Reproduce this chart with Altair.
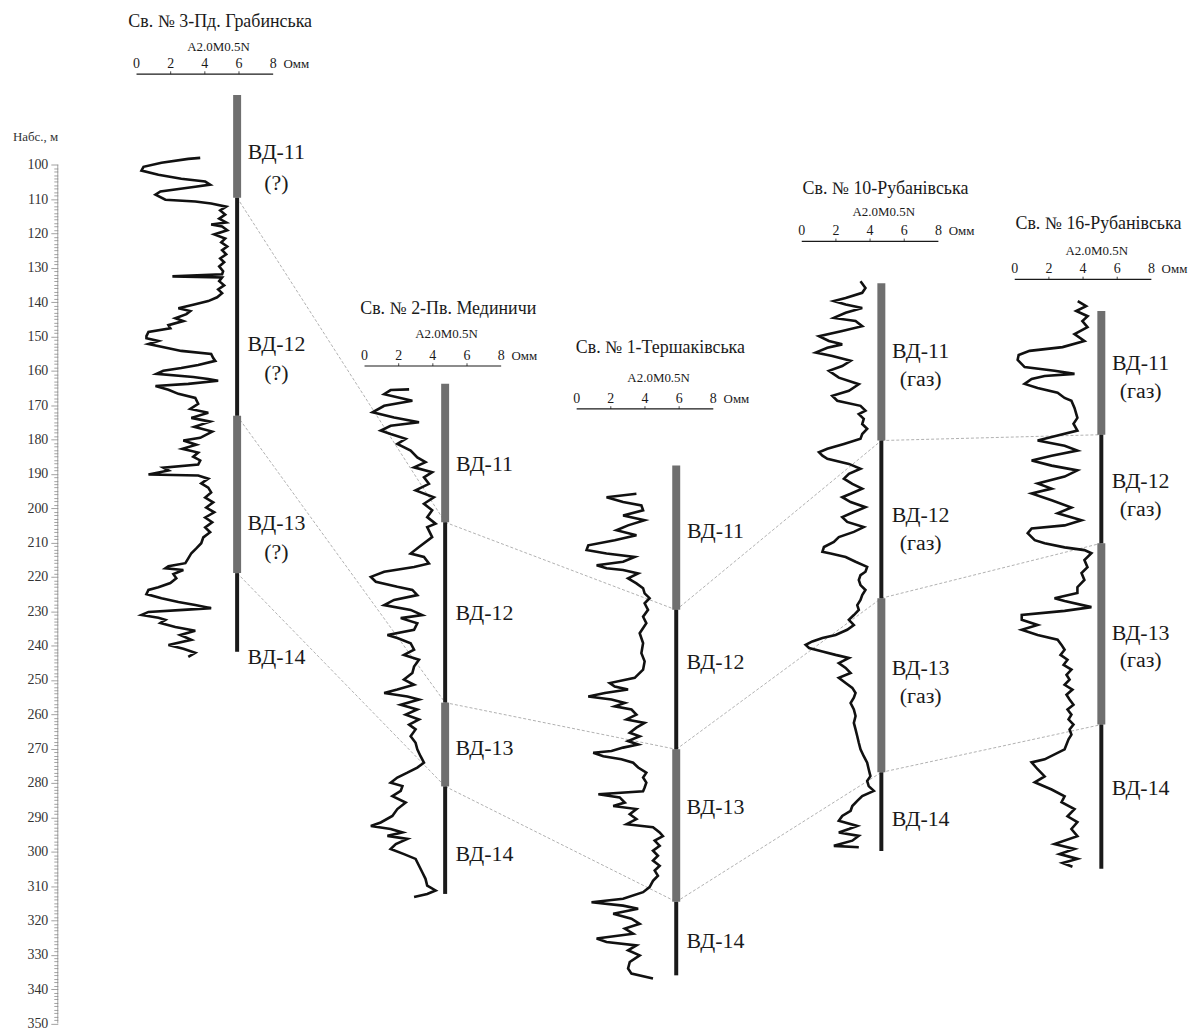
import altair as alt
import pandas as pd

# ---------------- data ----------------
WELL_NAMES = ["Св. № 3-Пд. Грабинська", "Св. № 2-Пв. Мединичи", "Св. № 1-Тершаківська",
              "Св. № 10-Рубанівська", "Св. № 16-Рубанівська"]

# lithological column boundaries, m (top, ВД-11/12, ВД-12/13, ВД-13/14, bottom)
COL_TOP = [79.7, 163.8, 187.6, 134.5, 142.6]
B_11_12 = [109.6, 204.1, 229.6, 180.3, 178.6]
B_12_13 = [173.1, 256.6, 270.2, 226.2, 210.2]
B_13_14 = [218.9, 281.0, 314.6, 276.9, 263.0]
COL_BOTTOM = [241.8, 312.3, 336.0, 299.8, 305.0]

UNIT_NAMES = ["ВД-11", "ВД-12", "ВД-13", "ВД-14"]
QUALIFIER = ["(?)", "", "", "(газ)", "(газ)"]

SCALE_TICKS = [0, 2, 4, 6, 8]
SCALE_UNIT = "Омм"
SCALE_NAME = "A2.0M0.5N"
DEPTH_TITLE = "Набс., м"

# resistivity logs: (depth m, apparent resistivity Ohm*m)
W3_LOG = [(98.0, 3.73), (98.3, 3.03), (99.4, 1.46), (100.6, 0.41), (101.7, 0.29), (102.9, 1.28),
          (104.1, 2.62), (104.9, 4.02), (105.8, 4.31), (106.4, 3.44), (107.8, 1.40), (108.7, 1.11),
          (110.2, 1.69), (110.7, 3.44), (111.3, 4.37), (112.2, 5.25), (113.3, 4.90), (114.5, 5.19),
          (115.7, 4.84), (116.8, 5.25), (117.4, 4.37), (118.0, 5.01), (119.1, 5.31), (120.3, 4.55),
          (121.5, 5.19), (122.6, 4.96), (123.8, 5.31), (124.9, 5.01), (126.1, 5.25), (127.3, 4.90),
          (128.4, 5.13), (129.6, 4.84), (131.0, 5.07), (131.9, 5.01), (132.5, 2.10), (132.8, 5.01),
          (133.9, 4.84), (135.1, 5.13), (136.3, 4.78), (137.4, 5.01), (138.6, 4.72), (139.7, 4.20),
          (140.6, 3.44), (141.8, 2.45), (142.6, 3.15), (143.5, 2.92), (144.7, 2.27), (145.5, 2.74),
          (146.7, 1.87), (147.6, 1.98), (148.7, 0.70), (149.9, 0.58), (150.5, 0.58), (151.3, 1.28),
          (152.2, 0.70), (153.4, 1.87), (154.2, 2.62), (155.1, 4.37), (156.3, 4.49), (157.1, 4.61),
          (158.3, 3.61), (159.2, 2.62), (160.0, 1.57), (160.9, 1.17), (161.8, 3.32), (162.4, 4.20),
          (162.9, 4.78), (163.8, 3.03), (164.4, 1.11), (165.5, 1.87), (166.7, 2.45), (167.9, 3.44),
          (169.6, 3.61), (171.1, 3.15), (172.2, 4.20), (173.7, 3.21), (174.8, 4.31), (176.3, 3.38),
          (177.7, 4.43), (179.5, 3.73), (180.3, 2.74), (181.5, 3.50), (182.7, 2.68), (183.8, 3.61),
          (185.0, 3.32), (186.1, 3.73), (187.3, 3.61), (188.2, 1.57), (189.0, 1.87), (190.2, 0.70),
          (190.5, 3.61), (191.4, 4.20), (192.8, 3.79), (194.0, 4.20), (195.4, 4.37), (196.9, 4.02),
          (198.3, 4.49), (199.8, 4.08), (201.2, 4.55), (202.7, 4.02), (204.1, 4.43), (205.6, 4.02),
          (207.0, 4.31), (208.5, 3.91), (210.2, 3.79), (211.7, 3.50), (213.1, 3.21), (214.6, 3.03),
          (216.0, 2.86), (216.9, 1.87), (217.5, 1.69), (218.0, 2.74), (219.2, 2.16), (220.4, 2.33),
          (221.8, 1.98), (223.0, 1.28), (223.8, 0.70), (225.0, 0.58), (226.2, 1.46), (227.3, 2.45),
          (228.2, 3.44), (229.1, 4.37), (229.6, 2.74), (230.2, 0.70), (231.1, 0.29), (231.9, 1.28),
          (232.5, 1.69), (233.4, 1.40), (234.6, 2.27), (235.7, 3.44), (236.9, 2.56), (238.3, 3.21),
          (239.8, 1.87), (240.9, 2.74), (242.1, 3.44), (243.3, 3.03)]

W2_LOG = [(165.4, 2.61), (165.6, 1.53), (166.8, 1.15), (168.7, 2.80), (170.2, 1.15), (172.1, 0.47),
          (173.6, 1.73), (175.0, 3.19), (176.0, 1.53), (177.4, 0.95), (178.4, 1.53), (179.8, 2.41),
          (181.3, 1.92), (183.2, 2.70), (185.2, 3.09), (186.6, 3.57), (188.1, 2.90), (189.5, 3.96),
          (191.0, 3.48), (192.9, 3.77), (194.8, 2.99), (196.8, 4.06), (198.7, 3.48), (200.6, 3.96),
          (202.6, 3.67), (204.5, 4.16), (205.5, 3.67), (208.4, 3.96), (211.3, 3.19), (213.2, 2.70),
          (214.2, 3.48), (216.1, 3.77), (217.1, 2.90), (218.5, 1.15), (220.0, 0.37), (221.4, 0.66),
          (222.9, 1.92), (223.8, 2.80), (225.3, 3.09), (226.7, 1.73), (228.2, 1.15), (229.6, 2.70),
          (231.1, 3.38), (232.0, 2.12), (233.5, 3.09), (235.4, 2.90), (236.9, 1.34), (237.8, 1.92),
          (239.3, 2.70), (241.2, 2.90), (242.7, 2.31), (244.1, 3.19), (246.1, 2.90), (248.0, 2.80),
          (249.9, 2.31), (251.4, 2.90), (252.8, 1.92), (253.8, 1.15), (254.8, 2.51), (255.7, 3.19),
          (257.2, 2.12), (258.6, 3.09), (260.1, 2.41), (261.5, 3.19), (263.0, 2.61), (264.4, 2.99),
          (266.4, 2.70), (268.3, 2.99), (270.2, 3.09), (272.2, 3.28), (274.1, 3.48), (275.5, 3.09),
          (277.0, 2.51), (278.4, 1.92), (279.9, 1.53), (280.9, 2.22), (282.3, 2.12), (283.8, 1.63),
          (285.7, 2.41), (287.6, 1.92), (289.6, 1.63), (291.5, 0.95), (292.5, 0.37), (293.4, 1.53),
          (294.4, 2.22), (295.4, 1.34), (296.3, 2.51), (297.8, 1.83), (299.2, 1.53), (300.7, 2.31),
          (302.1, 2.99), (304.1, 3.19), (306.0, 3.38), (307.9, 3.57), (309.9, 3.67), (311.3, 4.16),
          (312.3, 3.67), (313.2, 2.90)]

W1_LOG = [(195.8, 3.50), (196.8, 1.75), (198.2, 2.72), (199.2, 3.79), (200.6, 3.89), (202.1, 2.72),
          (203.5, 3.98), (205.0, 3.01), (206.4, 2.33), (207.9, 3.50), (209.3, 2.23), (210.8, 0.68),
          (212.2, 0.58), (213.2, 1.75), (214.2, 3.40), (215.6, 2.72), (216.6, 1.17), (217.5, 1.75),
          (218.0, 2.72), (219.0, 3.60), (220.4, 3.01), (221.9, 3.50), (223.3, 3.89), (224.8, 3.98),
          (226.2, 4.27), (227.7, 3.98), (229.6, 4.18), (231.6, 3.89), (233.5, 4.08), (236.4, 3.69),
          (239.3, 3.89), (242.2, 3.79), (244.6, 3.98), (247.0, 3.89), (249.4, 3.40), (250.9, 1.94),
          (251.9, 2.23), (252.8, 3.01), (253.8, 1.65), (254.8, 0.68), (255.7, 2.04), (256.7, 2.82),
          (257.7, 2.23), (258.6, 3.21), (260.1, 3.50), (261.5, 2.92), (262.5, 3.98), (263.9, 3.50),
          (265.4, 3.11), (266.4, 3.69), (267.8, 3.01), (268.8, 3.60), (269.7, 2.72), (270.7, 2.04),
          (271.2, 0.97), (272.2, 1.56), (273.1, 2.62), (274.1, 3.31), (275.5, 3.60), (277.0, 4.08),
          (278.4, 3.89), (279.9, 4.08), (281.3, 3.98), (282.4, 3.89), (283.3, 1.27), (284.2, 2.52),
          (285.7, 2.82), (286.7, 2.14), (287.6, 3.50), (289.1, 3.11), (290.5, 3.50), (292.0, 2.92),
          (292.9, 4.47), (294.4, 4.86), (295.5, 5.05), (296.8, 4.57), (298.3, 4.86), (299.7, 4.47),
          (301.2, 4.76), (302.6, 4.47), (304.1, 4.86), (305.5, 4.57), (307.0, 4.76), (308.5, 4.47),
          (310.3, 4.27), (311.8, 3.89), (313.7, 2.72), (314.7, 0.87), (315.7, 2.72), (316.6, 3.60),
          (318.1, 2.14), (319.5, 3.21), (321.0, 3.69), (322.4, 2.82), (323.9, 3.31), (325.3, 1.17),
          (326.3, 1.75), (327.3, 3.50), (328.7, 3.01), (330.2, 3.69), (332.1, 3.11), (334.0, 3.01),
          (335.5, 3.21), (336.9, 4.47)]

W10_LOG = [(133.9, 3.44), (135.9, 3.73), (137.3, 3.54), (138.8, 2.57), (139.7, 1.88), (140.7, 2.57),
           (141.7, 3.54), (143.1, 2.57), (144.6, 1.88), (145.5, 3.15), (147.0, 3.54), (148.4, 2.37),
           (149.9, 1.01), (151.3, 1.59), (152.3, 2.37), (153.3, 1.50), (154.7, 0.82), (155.7, 1.79),
           (157.1, 2.86), (158.6, 2.37), (160.0, 1.59), (162.0, 2.17), (163.9, 3.34), (165.8, 2.76),
           (167.3, 1.79), (168.7, 2.08), (170.2, 3.44), (171.6, 3.73), (172.6, 3.34), (174.0, 3.63),
           (175.5, 3.54), (176.9, 3.83), (178.4, 3.54), (179.8, 3.44), (181.3, 2.47), (182.7, 1.50),
           (183.7, 1.01), (184.7, 1.21), (185.6, 1.50), (187.1, 2.76), (188.5, 3.44), (190.0, 2.76),
           (191.4, 2.47), (192.9, 2.96), (194.3, 3.54), (195.8, 2.86), (196.8, 2.37), (198.2, 2.86),
           (199.7, 3.73), (201.1, 3.05), (202.6, 2.37), (204.0, 2.66), (205.5, 3.63), (206.9, 3.05),
           (208.4, 2.17), (209.8, 1.88), (211.3, 1.30), (212.7, 1.21), (213.2, 1.69), (214.2, 2.57),
           (215.6, 3.15), (217.1, 3.83), (218.5, 3.73), (219.5, 3.44), (220.9, 3.34), (222.4, 3.44),
           (223.8, 3.73), (225.3, 3.54), (226.7, 3.44), (228.2, 3.25), (229.6, 3.34), (231.1, 3.05),
           (232.5, 2.76), (234.0, 3.05), (235.4, 2.66), (236.9, 1.98), (237.8, 1.21), (238.8, 0.62),
           (239.8, 0.23), (240.7, 0.43), (241.7, 1.21), (242.7, 1.98), (243.6, 2.76), (245.1, 2.17),
           (246.5, 2.57), (248.0, 2.86), (249.4, 2.17), (250.9, 2.57), (252.3, 2.96), (253.8, 3.15),
           (255.2, 3.05), (256.7, 2.86), (258.6, 3.05), (260.5, 3.15), (262.5, 3.05), (264.4, 3.15),
           (266.4, 3.25), (268.3, 3.34), (270.2, 3.44), (272.2, 3.63), (274.1, 3.83), (276.0, 3.92),
           (278.0, 4.02), (279.4, 3.83), (280.9, 3.92), (282.3, 4.22), (283.8, 3.54), (285.2, 3.25),
           (286.7, 2.96), (288.1, 2.86), (289.6, 2.37), (291.0, 2.17), (292.5, 3.25), (293.4, 2.76),
           (294.4, 2.17), (295.4, 3.34), (296.8, 2.96), (298.3, 1.88), (298.7, 3.34)]

W16_LOG = [(139.7, 3.69), (141.2, 4.18), (142.6, 3.60), (144.1, 4.27), (145.5, 3.96), (147.3, 4.26),
           (149.3, 3.50), (151.3, 4.08), (153.1, 2.80), (154.2, 0.87), (155.4, 0.23), (156.8, 0.17),
           (158.9, 0.58), (160.0, 2.33), (160.9, 3.50), (161.5, 1.75), (162.4, 0.99), (163.8, 0.58),
           (165.0, 1.34), (166.4, 2.51), (167.9, 2.92), (168.7, 3.32), (170.8, 3.50), (173.7, 3.67),
           (175.4, 3.44), (177.4, 3.67), (178.9, 2.45), (180.3, 1.34), (181.8, 2.92), (183.2, 3.67),
           (184.7, 2.16), (186.1, 0.99), (187.6, 2.16), (189.0, 3.67), (190.8, 2.92), (192.8, 1.34),
           (194.3, 2.16), (195.7, 0.99), (197.7, 2.16), (199.8, 3.32), (201.5, 2.51), (203.5, 3.91),
           (205.0, 2.92), (205.9, 0.99), (207.3, 0.76), (209.3, 1.17), (210.2, 1.75), (211.4, 2.92),
           (212.2, 4.08), (213.1, 4.49), (215.1, 4.08), (217.2, 4.26), (218.9, 3.91), (220.9, 4.08),
           (223.0, 3.67), (224.7, 3.67), (226.2, 2.33), (227.0, 2.92), (228.8, 4.49), (229.9, 2.92),
           (231.1, 0.41), (232.5, 0.41), (234.0, 1.34), (235.4, 0.41), (236.9, 1.34), (238.3, 2.51),
           (239.8, 2.74), (241.2, 2.92), (242.7, 2.68), (244.1, 3.09), (245.6, 2.86), (247.0, 3.32),
           (248.5, 3.03), (249.9, 3.21), (251.4, 2.92), (252.8, 3.38), (254.3, 3.03), (255.7, 3.21),
           (257.2, 3.44), (258.6, 3.09), (260.1, 3.32), (261.5, 3.15), (263.0, 3.44), (264.4, 3.21),
           (265.9, 3.32), (267.3, 3.15), (270.2, 2.92), (273.1, 1.75), (274.0, 0.99), (276.0, 1.34),
           (278.1, 1.75), (279.8, 1.17), (281.9, 2.16), (283.9, 2.92), (285.6, 2.74), (287.6, 3.50),
           (289.7, 3.09), (291.4, 3.67), (293.4, 3.32), (295.5, 3.67), (297.8, 2.33), (299.2, 3.50),
           (300.7, 2.62), (302.1, 3.67), (303.3, 2.80), (304.4, 3.38)]

LOGS = [W3_LOG, W2_LOG, W1_LOG, W10_LOG, W16_LOG]

# ---------------- layout (not data) ----------------
X_OFFSET = [4.61, 17.96, 30.38, 43.56, 56.03]      # where each well's 0 Ohm*m sits on the shared x scale
COL_R = [5.89, 4.72, 5.83, 4.66, 5.07]              # column position inside each well's track
LABEL_DX = 2.3
UNIT_LABEL_DEPTH = [[96.2, 152.2, 204.4, 243.3], [187.0, 230.5, 269.7, 300.7],
                    [206.7, 244.7, 287.1, 325.9], [154.2, 202.1, 246.5, 290.5],
                    [157.7, 192.2, 236.3, 281.5]]
QUAL_DEPTH = [[105.2, 160.6, 212.8], [], [], [162.4, 210.2, 254.6], [165.8, 200.1, 244.1]]
TITLE_DEPTH = [58.5, 142.1, 153.4, 107.0, 117.4]
NAME_DEPTH = [65.8, 149.3, 162.1, 113.9, 125.2]
LINE_DEPTH = [73.6, 158.6, 171.1, 122.3, 133.4]

FONT = "Liberation Serif"
XS = alt.Scale(domain=[0, 66], nice=False, zero=False)
YS = alt.Scale(domain=[55, 351], reverse=True, nice=False, zero=False)

# ---------------- tables ----------------
curve_rows = []
for k, log in enumerate(LOGS):
    for i, (d, r) in enumerate(log):
        curve_rows.append({"well": WELL_NAMES[k], "i": i, "x": X_OFFSET[k] + r, "y": d})
curve_df = pd.DataFrame(curve_rows)

gray_rows, black_rows = [], []
for k in range(5):
    cx = X_OFFSET[k] + COL_R[k]
    gray_rows += [{"x": cx, "y": COL_TOP[k], "y2": B_11_12[k]}, {"x": cx, "y": B_12_13[k], "y2": B_13_14[k]}]
    black_rows += [{"x": cx, "y": B_11_12[k], "y2": B_12_13[k]}, {"x": cx, "y": B_13_14[k], "y2": COL_BOTTOM[k]}]
gray_df = pd.DataFrame(gray_rows)
black_df = pd.DataFrame(black_rows)

corr_rows = []
for k in range(4):
    for b in (B_11_12, B_12_13, B_13_14):
        corr_rows.append({"x": X_OFFSET[k] + COL_R[k], "y": b[k],
                          "x2": X_OFFSET[k + 1] + COL_R[k + 1], "y2": b[k + 1]})
corr_df = pd.DataFrame(corr_rows)

lab_rows = []
for k in range(5):
    lx = X_OFFSET[k] + COL_R[k] + LABEL_DX
    for j, name in enumerate(UNIT_NAMES):
        lab_rows.append({"x": lx, "y": UNIT_LABEL_DEPTH[k][j], "t": name})
    for j, d in enumerate(QUAL_DEPTH[k]):
        lab_rows.append({"x": lx, "y": d, "t": QUALIFIER[k]})
lab_df = pd.DataFrame(lab_rows)

title_df = pd.DataFrame({"x": [o + 4.9 for o in X_OFFSET], "y": TITLE_DEPTH, "t": WELL_NAMES})
name_df = pd.DataFrame({"x": [o + 4.8 for o in X_OFFSET], "y": NAME_DEPTH, "t": [SCALE_NAME] * 5})
line_df = pd.DataFrame({"x": [o + SCALE_TICKS[0] for o in X_OFFSET],
                        "x2": [o + SCALE_TICKS[-1] for o in X_OFFSET], "y": LINE_DEPTH})
tick_rows, minor_rows, unit_rows = [], [], []
for k in range(5):
    for t in SCALE_TICKS:
        tick_rows.append({"x": X_OFFSET[k] + t, "y": LINE_DEPTH[k] - 3.0, "t": str(t)})
        if 0 < t < SCALE_TICKS[-1]:
            minor_rows.append({"x": X_OFFSET[k] + t, "y": LINE_DEPTH[k] - 0.8, "y2": LINE_DEPTH[k]})
    unit_rows.append({"x": X_OFFSET[k] + 8.6, "y": LINE_DEPTH[k] - 3.0, "t": SCALE_UNIT})
tick_df = pd.DataFrame(tick_rows)
minor_df = pd.DataFrame(minor_rows)
unit_df = pd.DataFrame(unit_rows)

axis_df = pd.DataFrame({"y": [100], "y2": [350]})
atitle_df = pd.DataFrame({"x": [-1.3], "y": [92.0], "t": [DEPTH_TITLE]})

depth_axis = alt.Axis(
    values=list(range(100, 351)),
    labelExpr="datum.value % 10 === 0 ? datum.label : ''",
    format="d",
    tickSize={"condition": {"test": "datum.value % 10 === 0", "value": 7}, "value": 4},
    tickColor="#8a8a8a", tickWidth=0.8,
    labelFont=FONT, labelFontSize=14, labelColor="#333333", labelPadding=3,
    labelOverlap=False, labelBound=False, labelFlush=False,
    domain=False, grid=False, title=None,
)


def ex(f):
    return alt.X(f, type="quantitative", scale=XS, axis=None)


def ey(f):
    # every layer carries the same depth axis so that the merged axis survives
    return alt.Y(f, type="quantitative", scale=YS, axis=depth_axis)


axis_layer = alt.Chart(axis_df).mark_rule(color="#8a8a8a", strokeWidth=0.8).encode(
    x=alt.value(0), y=ey("y"), y2="y2:Q")

corr = alt.Chart(corr_df).mark_rule(color="#9c9c9c", strokeWidth=0.8, strokeDash=[3, 2]).encode(
    x=ex("x"), y=ey("y"), x2="x2:Q", y2="y2:Q")
gray = alt.Chart(gray_df).mark_rule(color="#6f6f6f", strokeWidth=8, strokeCap="butt").encode(
    x=ex("x"), y=ey("y"), y2="y2:Q")
black = alt.Chart(black_df).mark_rule(color="#1a1a1a", strokeWidth=4, strokeCap="butt").encode(
    x=ex("x"), y=ey("y"), y2="y2:Q")
curves = alt.Chart(curve_df).mark_line(color="#111111", strokeWidth=2.6).encode(
    x=ex("x"), y=ey("y"), detail="well:N", order="i:Q")

labels = alt.Chart(lab_df).mark_text(font=FONT, fontSize=22, color="#1a1a1a", align="center",
                                     baseline="middle").encode(x=ex("x"), y=ey("y"), text="t:N")
titles = alt.Chart(title_df).mark_text(font=FONT, fontSize=18, color="#1a1a1a", align="center",
                                       baseline="middle").encode(x=ex("x"), y=ey("y"), text="t:N")
names = alt.Chart(name_df).mark_text(font=FONT, fontSize=13, color="#1a1a1a", align="center",
                                     baseline="middle").encode(x=ex("x"), y=ey("y"), text="t:N")
lines = alt.Chart(line_df).mark_rule(color="#1a1a1a", strokeWidth=1.2).encode(
    x=ex("x"), x2="x2:Q", y=ey("y"))
minor = alt.Chart(minor_df).mark_rule(color="#1a1a1a", strokeWidth=0.8).encode(
    x=ex("x"), y=ey("y"), y2="y2:Q")
ticks = alt.Chart(tick_df).mark_text(font=FONT, fontSize=14, color="#1a1a1a", align="center",
                                     baseline="middle").encode(x=ex("x"), y=ey("y"), text="t:N")
units = alt.Chart(unit_df).mark_text(font=FONT, fontSize=13, color="#1a1a1a", align="left",
                                     baseline="middle").encode(x=ex("x"), y=ey("y"), text="t:N")
atitle = alt.Chart(atitle_df).mark_text(font=FONT, fontSize=13, color="#333333", align="center",
                                        baseline="middle").encode(x=ex("x"), y=ey("y"), text="t:N")

chart = alt.layer(
    axis_layer, corr, gray, black, curves, labels, titles, names, lines, minor, ticks, units, atitle
).properties(
    width=1132, height=1021,
    padding={"left": 4, "top": 0, "right": 0, "bottom": 0},
    background="white",
).configure_view(stroke=None)

chart.save("out.html", embed_options={"renderer": "svg", "actions": False})
